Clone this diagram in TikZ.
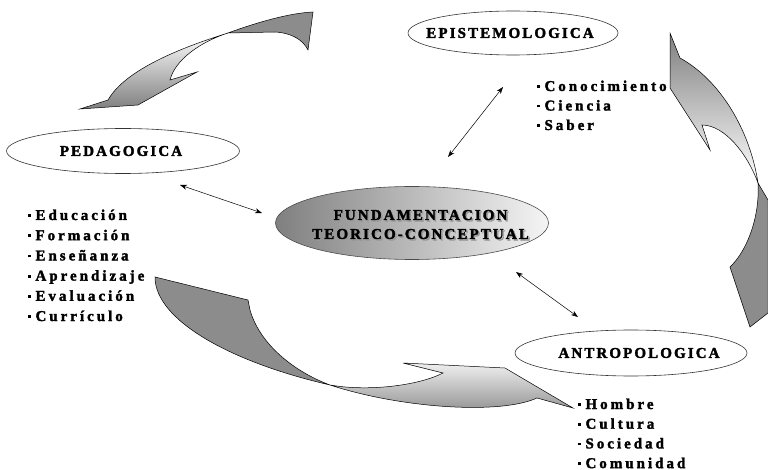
\documentclass[tikz,border=0pt]{standalone}
\usepackage{fontspec}
\setmainfont{Liberation Serif}
\newfontfamily\spaced[LetterSpace=14, FakeBold=2]{Liberation Serif Bold}
\newfontfamily\spacedlist[LetterSpace=20, FakeBold=2]{Liberation Serif Bold}
\usetikzlibrary{shapes.geometric,arrows.meta}
\newcommand{\bul}{\rule[3pt]{2.8pt}{2.8pt}\hspace{4.5pt}}
\begin{document}
\begin{tikzpicture}[x=1pt,y=-1pt,
  lbl/.style={font=\spaced\fontsize{15}{19}\selectfont, inner sep=0pt},
  item/.style={font=\spacedlist\fontsize{15}{19}\selectfont, inner sep=0pt, anchor=base west},
  oval/.style={ellipse, draw=black!80, line width=0.6pt, fill=white, inner sep=0pt},
  ribbon/.style={draw=black, line width=0.5pt},
  backside/.style={ribbon, fill=black!45},
  link/.style={{Stealth[length=7pt,width=5pt]}-{Stealth[length=7pt,width=5pt]}, line width=0.5pt}]
\useasboundingbox (0,0) rectangle (768,470);

% ---- curved ribbon arrows ----
% top left: Epistemologica -> Pedagogica
\path[backside] (228,33) .. controls (258,22) and (290,13) .. (313,12)
  -- (308,50) .. controls (303,40) and (292,33) .. (275,32) -- cycle;
\path[ribbon, top color=white, bottom color=black!50]
  (228,33) .. controls (180,48) and (125,70) .. (108,100)
  -- (80,109) -- (138,105) -- (197,72) -- (170,80)
  .. controls (175,60) and (200,42) .. (228,33) -- cycle;

% right: Antropologica -> Epistemologica
\path[backside] (758,183) -- (768,200) -- (768,313) -- (750,327) -- (730,267)
  .. controls (748,250) and (760,215) .. (758,183) -- cycle;
\path[ribbon, top color=black!50, bottom color=white]
  (670,33) -- (680,58) .. controls (720,80) and (750,130) .. (758,183)
  .. controls (748,155) and (725,125) .. (702,125)
  -- (710,150) -- (670,88) -- cycle;

% bottom: Pedagogica -> Antropologica
\path[backside] (155,277) -- (248,300) -- (250,310)
  .. controls (260,345) and (295,372) .. (330,385)
  .. controls (230,362) and (155,320) .. (155,277) -- cycle;
\path[ribbon, top color=black!6, bottom color=black!45]
  (330,385) .. controls (370,392) and (420,385) .. (443,373)
  -- (403,363) -- (505,368) -- (573,408) -- (537,398)
  .. controls (500,415) and (400,408) .. (330,385) -- cycle;

% ---- ovals ----
\node[oval, minimum width=210pt, minimum height=44pt] (epi) at (513,33) {};
\node[lbl] at (510,33) {EPISTEMOLOGICA};
\node[oval, minimum width=233pt, minimum height=45pt] (ped) at (123,151) {};
\node[lbl] at (121,151) {PEDAGOGICA};
\node[oval, minimum width=232pt, minimum height=46pt] (ant) at (631,353) {};
\node[lbl] at (639,353) {ANTROPOLOGICA};

\node[ellipse, draw=black!70, line width=0.6pt, minimum width=273pt, minimum height=73pt,
      left color=black!50, right color=black!4] (cen) at (412,223) {};
\node[lbl, text=black!40, align=center] at (422,226) {FUNDAMENTACION\\TEORICO-CONCEPTUAL};
\node[lbl, align=center] (centxt) at (420.5,224.5) {FUNDAMENTACION\\TEORICO-CONCEPTUAL};

% ---- lists ----
\foreach \t [count=\i] in {Educación,Formación,Enseñanza,Aprendizaje,Evaluación,Currículo}
  \node[item] (p\i) at (28,{220+20.2*(\i-1)}) {\bul\t};
\foreach \t [count=\i] in {Conocimiento,Ciencia,Saber}
  \node[item] (e\i) at (537,{91+19.5*(\i-1)}) {\bul\t};
\foreach \t [count=\i] in {Hombre,Cultura,Sociedad,Comunidad}
  \node[item] (a\i) at (578,{409+19.7*(\i-1)}) {\bul\t};

% ---- links to the centre ----
\coordinate (le1) at (503,87);  \coordinate (le2) at (448,157);
\coordinate (lp1) at (180,185); \coordinate (lp2) at (262,213);
\coordinate (la1) at (516,272); \coordinate (la2) at (578,317);
\draw[link] (le1) -- (le2);
\draw[link] (lp1) -- (lp2);
\draw[link] (la1) -- (la2);
\end{tikzpicture}
\end{document}
